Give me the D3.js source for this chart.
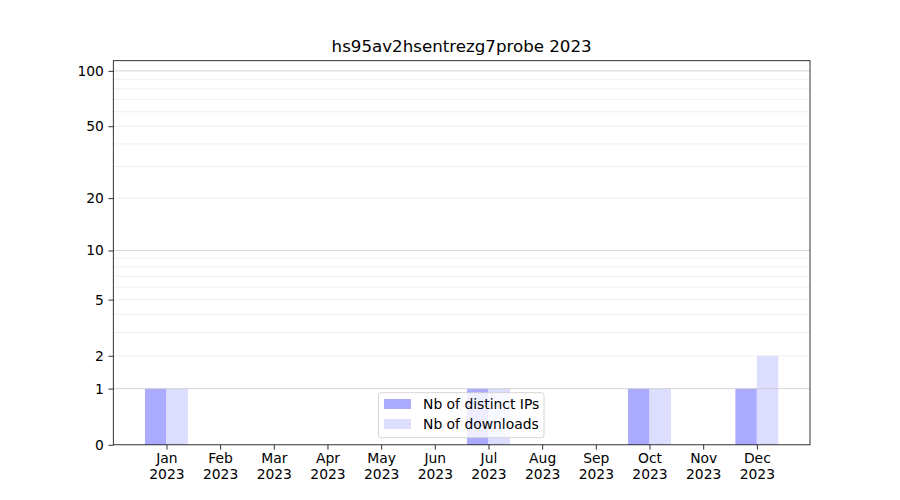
<!DOCTYPE html>
<html><head><meta charset="utf-8">
<script src="https://cdn.jsdelivr.net/npm/d3@7"></script>
<style>body{margin:0;background:#fff}svg{display:block;font-family:"DejaVu Sans",sans-serif}</style>
</head><body><svg id="c" width="900" height="500"></svg>
<script>
const title = "hs95av2hsentrezg7probe 2023";
const months = ["Jan","Feb","Mar","Apr","May","Jun","Jul","Aug","Sep","Oct","Nov","Dec"];
const yearLabel = "2023";
const distinctIPs = [1,0,0,0,0,0,1,0,0,1,0,1];
const downloads   = [1,0,0,0,0,0,1,0,0,1,0,2];
const yTicks = [0,1,2,5,10,20,50,100];
const majorGrid = [1,10,100];
const minorGrid = [2,3,4,5,6,7,8,9,20,30,40,50,60,70,80,90];
const seriesNames = ["Nb of distinct IPs","Nb of downloads"];
const seriesColors = ["#aaaaff","#ddddff"];

const svg = d3.select("#c");
const L=113.3, R=810, T=60.7, B=444.8;
const x = d3.scaleLinear().domain([-0.99, 11.99]).range([L,R]);
const y = d3.scaleSymlog().constant(1).domain([0,113.5]).range([B,T]);
const bw = 0.4;
const FS = "13.89px";

// bars
const g = svg.append("g");
g.selectAll("rect.ip").data(distinctIPs).join("rect")
  .attr("x",(d,i)=>x(i-bw)).attr("width",(d,i)=>x(i)-x(i-bw))
  .attr("y",d=>y(d)).attr("height",d=>B-y(d)).attr("fill",seriesColors[0]);
g.selectAll("rect.dl").data(downloads).join("rect")
  .attr("x",(d,i)=>x(i)).attr("width",(d,i)=>x(i+bw)-x(i))
  .attr("y",d=>y(d)).attr("height",d=>B-y(d)).attr("fill",seriesColors[1]);

// grid
svg.append("g").selectAll("line").data(minorGrid).join("line")
  .attr("x1",L).attr("x2",R).attr("y1",d=>y(d)).attr("y2",d=>y(d))
  .attr("stroke","#ebebeb").attr("stroke-width",0.8);
svg.append("g").selectAll("line").data(majorGrid).join("line")
  .attr("x1",L).attr("x2",R).attr("y1",d=>y(d)).attr("y2",d=>y(d))
  .attr("stroke","#cccccc").attr("stroke-width",0.8);

// axes
const yAxis = d3.axisLeft(y).tickValues(yTicks).tickFormat(d3.format("d")).tickSize(4.86).tickPadding(4.5);
const ya = svg.append("g").attr("transform",`translate(${L},0)`).call(yAxis);
const xAxis = d3.axisBottom(x).tickValues(d3.range(12)).tickFormat(i=>months[i]).tickSize(4.86).tickPadding(3.5);
const xa = svg.append("g").attr("transform",`translate(0,${B})`).call(xAxis);
[ya,xa].forEach(a=>{
  a.select(".domain").remove();
  a.selectAll(".tick line").attr("stroke","#000").attr("stroke-width",0.8);
  a.selectAll(".tick text").attr("fill","#000").attr("font-size",FS).attr("font-family","DejaVu Sans");
});
xa.selectAll(".tick text").each(function(i){
  const t=d3.select(this); t.text(null);
  t.append("tspan").attr("x",0).attr("dy","0.71em").text(months[i]);
  t.append("tspan").attr("x",0).attr("dy","1.17em").text(yearLabel);
}).attr("dy",null);

// frame
svg.append("rect").attr("x",L).attr("y",T).attr("width",R-L).attr("height",B-T)
  .attr("fill","none").attr("stroke","#000").attr("stroke-width",0.8);

// title
svg.append("text").attr("x",(L+R)/2).attr("y",51.5).attr("text-anchor","middle")
  .attr("font-size","16.67px").attr("fill","#000").text(title);

// legend
const lg = svg.append("g");
lg.append("rect").attr("x",378.5).attr("y",392.7).attr("width",165.5).attr("height",45)
  .attr("rx",2.5).attr("fill","#fff").attr("fill-opacity",0.8).attr("stroke","#cccccc").attr("stroke-width",0.8);
seriesNames.forEach((n,i)=>{
  lg.append("rect").attr("x",384).attr("y",399+i*20).attr("width",27).attr("height",10).attr("fill",seriesColors[i]);
  lg.append("text").attr("x",423).attr("y",409+i*20).attr("font-size",FS).attr("fill","#000").text(n);
});
</script></body></html>
